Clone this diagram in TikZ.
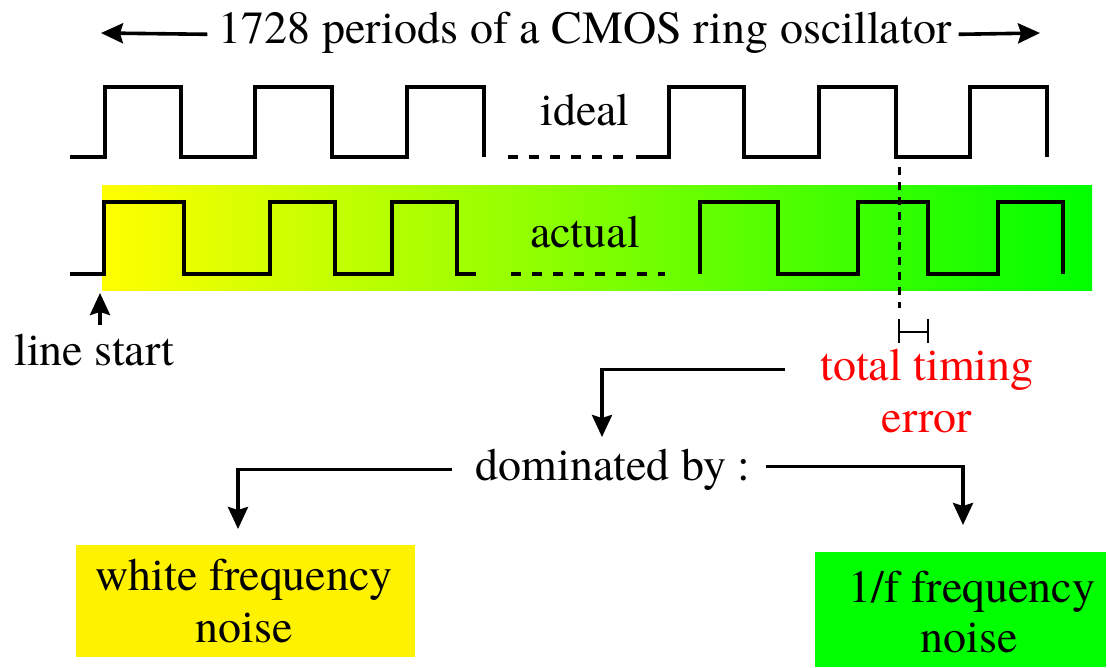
\documentclass[tikz,border=0pt]{standalone}
\usepackage{fontspec}
\newfontfamily\timesfam{texgyretermes-regular.otf}
\usetikzlibrary{arrows.meta}
\begin{document}
\begin{tikzpicture}[x=1pt,y=-1pt,
  font=\timesfam\fontsize{46}{51}\selectfont,
  wave/.style={line width=3.2pt, line join=miter},
  gapline/.style={line width=3.2pt, dash pattern=on 10pt off 11pt},
  arr/.style={line width=3.6pt, -{Stealth[length=22pt,width=20pt,inset=3pt]}},
  lbl/.style={inner sep=0pt, anchor=base},
  noisebox/.style={fill=#1, inner sep=0pt}
]
% canvas
\fill[white] (0,0) rectangle (1108,667);
\useasboundingbox (0,0) rectangle (1108,667);

% title with span arrows
\node[lbl] (title) at (585,43) {1728 periods of a CMOS ring oscillator};
\coordinate (tl) at (101,33);
\coordinate (tr) at (1040,33);
\draw[arr] ([xshift=-11pt,yshift=-2pt]title.west) -- (tl);
\draw[arr] ([xshift=7pt,yshift=-2pt]title.east) -- (tr);

% ideal clock
\draw[wave] (70,157) -- (105,157) -- (105,87) -- (181,87) -- (181,157) -- (255,157)
  -- (255,87) -- (332,87) -- (332,157) -- (407,157) -- (407,87) -- (484,87) -- (484,157);
\draw[gapline] (508,157) -- (632,157);
\draw[wave] (636,157) -- (669,157) -- (669,87) -- (744,87) -- (744,157) -- (819,157)
  -- (819,87) -- (896,87) -- (896,157) -- (970,157) -- (970,87) -- (1047,87) -- (1047,157);
\node[lbl] (ideal) at (585,125) {ideal};

% actual clock on the noise gradient
\shade[left color=yellow, right color=green] (102,185) rectangle (1092,290);
\draw[wave] (70,274) -- (104,274) -- (104,202) -- (184,202) -- (184,274) -- (270,274)
  -- (270,202) -- (335,202) -- (335,274) -- (392,274) -- (392,202) -- (457,202) -- (457,274) -- (476,274);
\draw[gapline] (511,274) -- (665,274);
\draw[wave] (700,274) -- (700,202) -- (778,202) -- (778,274) -- (858,274) -- (858,202)
  -- (928,202) -- (928,274) -- (998,274) -- (998,202) -- (1063,202) -- (1063,274);
\node[lbl] (actual) at (585,247) {actual};

% timing error marker
\draw[line width=3pt, dash pattern=on 8pt off 7pt] (899,167) -- (899,308);
\draw[line width=2.5pt] (899,319) -- (899,343) (899,332) -- (928,332) (928,319) -- (928,343);

% line start
\node[lbl] (ls) at (94.5,365) {line start};
\coordinate (lsa) at (100,293);
\draw[arr] ([yshift=8pt]ls.north -| lsa) -- (lsa);

% total timing error
\node[lbl, text=red] (ter1) at (927,380) {total timing};
\node[lbl, text=red] (ter2) at (927,432) {error};
\coordinate (dtip) at (602,437);
\draw[arr] ([xshift=-35pt]ter1.west) -| (dtip);

% dominated by
\node[lbl] (dom) at (613,480) {dominated by :};
\coordinate (wtip) at (238,529);
\coordinate (ftip) at (963,525);
\draw[arr] ([xshift=-23pt]dom.west) -| (wtip);
\draw[arr] ([xshift=15pt,yshift=3pt]dom.east) -| (ftip);

% noise boxes
\node[noisebox=yellow, minimum width=339pt, minimum height=112pt] (wbox) at (245.5,601) {};
\node[lbl] (w1) at (244,590) {white frequency};
\node[lbl] (w2) at (244,642) {noise};
\node[noisebox=green, minimum width=291pt, minimum height=115pt] (fbox) at (960.5,609.5) {};
\node[lbl] (f1) at (972,602) {1/f frequency};
\node[lbl] (f2) at (969,652) {noise};
\end{tikzpicture}
\end{document}
